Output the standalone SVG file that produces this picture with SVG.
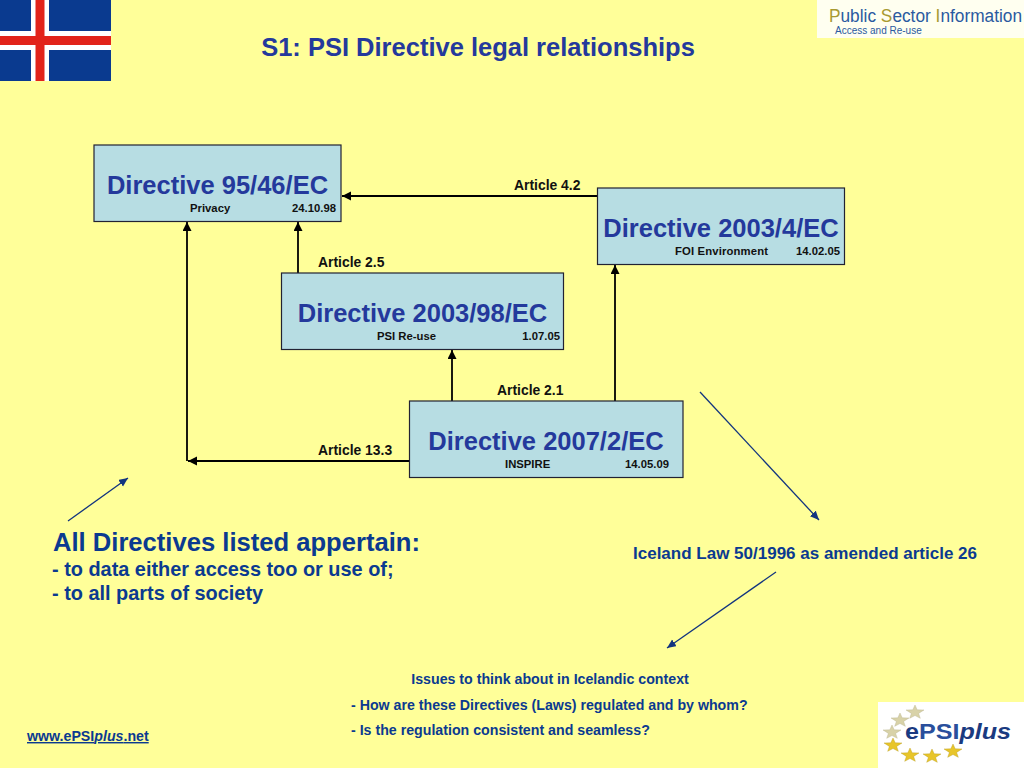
<svg xmlns="http://www.w3.org/2000/svg" width="1024" height="768" viewBox="0 0 1024 768">
<style>
text{font-family:"Liberation Sans",Arial,sans-serif}
.t{font-size:25.500px;font-weight:bold;fill:#24399c;text-anchor:middle}
.s{font-size:11.300px;font-weight:bold;fill:#111}
.a{font-size:13.900px;font-weight:bold;fill:#111}
.n{fill:#b7dde3;stroke:#223;stroke-width:1.2}
.c{fill:none;stroke:#000;stroke-width:1.8}
.b{fill:none;stroke:#12347f;stroke-width:1.3}
.bl{font-weight:bold;fill:#0b3a90}
.star{fill:#e8c52a;stroke:#b89c20;stroke-width:.4}
.pale{fill:#d8d2a8;stroke:#b8b290;stroke-width:.4}
</style>
<defs>
<marker id="k" markerWidth="10" markerHeight="10" refX="9" refY="4.500" orient="auto" markerUnits="userSpaceOnUse"><path d="M0,0L9,4.500L0,9z" fill="#000"/></marker>
<marker id="u" markerWidth="11" markerHeight="10" refX="9" refY="4" orient="auto" markerUnits="userSpaceOnUse"><path d="M0,0L9,4L0,8z" fill="#12347f"/></marker>
<path id="st" d="M0,-7L2.200,-2.200L9,-2L3.600,1.400L5.300,6.300L0,3.500L-5.300,6.300L-3.600,1.400L-9,-2L-2.200,-2.200z"/>
</defs>
<rect width="1024" height="768" fill="#ffff99"/>
<g id="flag">
<rect x="0" y="0" width="111" height="81" fill="#0a3a8f"/>
<rect x="31" y="0" width="18" height="81" fill="#fff"/>
<rect x="0" y="31" width="111" height="19" fill="#fff"/>
<rect x="35.500" y="0" width="9" height="81" fill="#e2231a"/>
<rect x="0" y="36" width="111" height="9" fill="#e2231a"/>
</g>
<g id="psi-logo">
<rect x="817" y="0" width="207" height="38" fill="#fffff0"/>
<text x="829" y="22" font-size="18" fill="#2a5aa0" textLength="193" lengthAdjust="spacingAndGlyphs"><tspan fill="#a89a30">P</tspan>ublic <tspan fill="#a89a30">S</tspan>ector <tspan fill="#a89a30">I</tspan>nformation</text>
<text x="835" y="34" font-size="10" fill="#2a5aa0">Access and Re-use</text>
</g>
<text id="title" x="478" y="56" font-size="25.500" fill="#24399c" font-weight="bold" text-anchor="middle">S1: PSI Directive legal relationships</text>
<g id="connectors">
<path class="c" d="M597,196H342" marker-end="url(#k)"/>
<path class="c" d="M298,273V222" marker-end="url(#k)"/>
<path class="c" d="M187,461V222" marker-end="url(#k)"/>
<path class="c" d="M409,461H188" marker-end="url(#k)"/>
<path class="c" d="M452,401V350" marker-end="url(#k)"/>
<path class="c" d="M615,401V265" marker-end="url(#k)"/>
<path class="b" d="M68,521L128,478" marker-end="url(#u)"/>
<path class="b" d="M700,392L819,520" marker-end="url(#u)"/>
<path class="b" d="M776,572L667,648" marker-end="url(#u)"/>
</g>
<g id="n1"><rect class="n" x="94" y="145" width="247" height="76.500"/><text class="t" x="217.500" y="193.500">Directive 95/46/EC</text><text class="s" x="190" y="212">Privacy</text><text class="s" x="336" y="212" text-anchor="end">24.10.98</text></g>
<g id="n2"><rect class="n" x="597.500" y="188" width="247" height="76.500"/><text class="t" x="721" y="236.500">Directive 2003/4/EC</text><text class="s" x="675" y="255" textLength="93">FOI Environment</text><text class="s" x="840" y="255" text-anchor="end">14.02.05</text></g>
<g id="n3"><rect class="n" x="281.500" y="273" width="282" height="76.500"/><text class="t" x="422.500" y="321.500">Directive 2003/98/EC</text><text class="s" x="377" y="340">PSI Re-use</text><text class="s" x="560" y="340" text-anchor="end">1.07.05</text></g>
<g id="n4"><rect class="n" x="409.500" y="401" width="273.500" height="76.500"/><text class="t" x="546" y="449.500">Directive 2007/2/EC</text><text class="s" x="505" y="468">INSPIRE</text><text class="s" x="669" y="468" text-anchor="end">14.05.09</text></g>
<text class="a" x="514" y="189.500">Article 4.2</text>
<text class="a" x="318" y="266.500">Article 2.5</text>
<text class="a" x="497" y="394.500">Article 2.1</text>
<text class="a" x="318" y="454.500">Article 13.3</text>
<g id="notes">
<text x="53" y="550.500" font-size="25.600" class="bl">All Directives listed appertain:</text>
<text x="52" y="575.500" font-size="19.900" class="bl">- to data either access too or use of;</text>
<text x="52" y="599.500" font-size="19.900" class="bl">- to all parts of society</text>
<text x="633" y="559" font-size="17" class="bl">Iceland Law 50/1996 as amended article 26</text>
<text x="550" y="684" font-size="14.200" class="bl" text-anchor="middle">Issues to think about in Icelandic context</text>
<text x="351" y="710" font-size="14.200" class="bl">- How are these Directives (Laws) regulated and by whom?</text>
<text x="351" y="735" font-size="14.200" class="bl">- Is the regulation consistent and seamless?</text>
<text x="27" y="741" font-size="14.200" class="bl" text-decoration="underline">www.ePSI<tspan font-style="italic">plus</tspan>.net</text>
</g>
<g id="epsi-logo">
<rect x="878" y="702" width="146" height="66" fill="#fff"/>
<use href="#st" x="915" y="712" class="pale"/>
<use href="#st" x="900" y="720" class="pale"/>
<use href="#st" x="892" y="732" class="pale"/>
<use href="#st" x="893" y="745" class="star"/>
<use href="#st" x="910" y="755" class="star"/>
<use href="#st" x="932" y="756" class="star"/>
<use href="#st" x="953" y="751" class="star"/>
<text x="905" y="739" font-size="22" font-weight="bold" fill="#2a4f9c" textLength="106" lengthAdjust="spacingAndGlyphs"><tspan fill="#1a3a80">e</tspan>PSI<tspan font-style="italic" fill="#1a3a80">plus</tspan></text>
</g>
</svg>
